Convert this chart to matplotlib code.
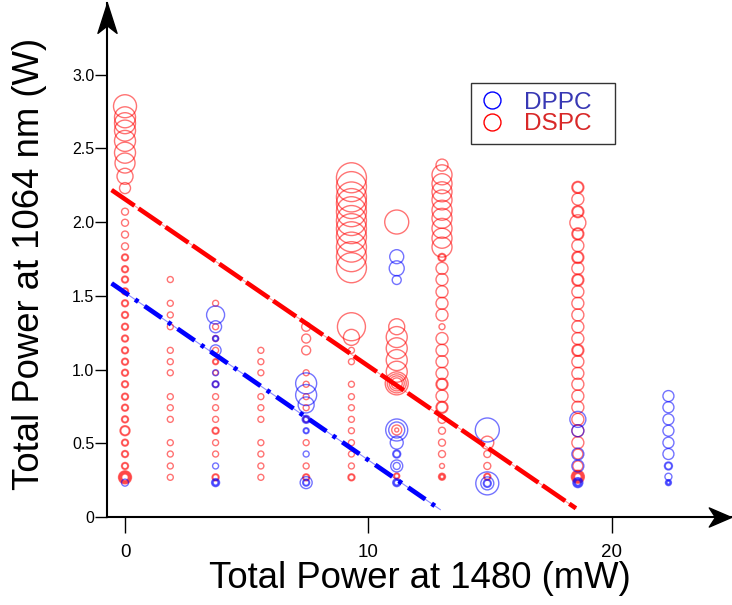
import matplotlib.pyplot as plt
from matplotlib.lines import Line2D
from matplotlib.path import Path

plt.rcParams['font.family'] = ['Liberation Sans', 'DejaVu Sans']
plt.rcParams['lines.scale_dashes'] = False

# power at 1480 nm for each measured column (mW)
col_x = [0.0, 1.86, 3.72, 5.58, 7.44, 9.3, 11.16, 13.02, 14.88, 18.6, 22.32]

# entries: (total power at 1064 nm in W, bubble radius, repeats)
dspc_c0 = [(2.785, 11.5, 1), (2.71, 10.5, 1), (2.67, 10.5, 1), (2.62, 10.5, 1), (2.55, 10.5, 1),
           (2.47, 10.5, 1), (2.40, 10.0, 1), (2.31, 8.0, 1), (2.23, 5.5, 1),
           (2.07, 3.5, 1), (1.995, 3.5, 1), (1.915, 3.5, 1), (1.835, 3.5, 1),
           (1.76, 3.5, 2), (1.68, 3.5, 2), (1.61, 3.5, 2), (1.53, 3.5, 2), (1.449, 3.5, 2),
           (1.37, 3.5, 2), (1.29, 3.5, 2), (1.21, 3.5, 2), (1.13, 3.5, 2), (1.053, 3.5, 2),
           (0.978, 3.5, 2), (0.90, 3.5, 2), (0.816, 3.5, 2), (0.741, 3.5, 2), (0.662, 3.5, 2),
           (0.585, 5.0, 2), (0.504, 3.5, 2), (0.427, 3.5, 2), (0.346, 3.5, 2), (0.269, 6.5, 5)]
dspc_c1 = [(1.61, 3, 1), (1.449, 3, 1), (1.37, 3, 1), (1.29, 3, 1), (1.13, 3, 1), (1.053, 3, 1),
           (0.978, 3, 1), (0.816, 3, 1), (0.741, 3, 1), (0.662, 3, 1), (0.504, 3, 1), (0.427, 3, 1),
           (0.346, 3, 1), (0.269, 3, 1)]
dspc_c2 = [(1.449, 3, 1), (1.29, 3, 1), (1.21, 3, 1), (1.13, 3, 1), (1.053, 3, 2), (0.978, 2.5, 1),
           (0.90, 3, 1), (0.816, 3, 1), (0.741, 3, 1), (0.662, 3, 1), (0.585, 3.5, 2), (0.504, 3, 1),
           (0.427, 3, 1), (0.269, 3.5, 2)]
dspc_c3 = [(1.13, 3, 1), (1.053, 3, 1), (0.978, 3, 1), (0.816, 3, 1), (0.741, 3, 1), (0.662, 3, 1),
           (0.504, 3, 1), (0.427, 3, 1), (0.346, 3, 1), (0.269, 3, 1)]
dspc_c4 = [(1.29, 4.5, 1), (1.21, 4.5, 1), (1.13, 4.5, 1), (0.978, 3, 1), (0.90, 3, 1), (0.816, 3, 1),
           (0.741, 3, 1), (0.662, 3, 1), (0.504, 3, 1), (0.346, 3, 1), (0.269, 3.5, 2)]
dspc_c5 = [(2.30, 15, 1), (2.24, 15, 1), (2.17, 15, 1), (2.125, 15, 1), (2.07, 15, 1), (2.01, 15, 1),
           (1.955, 15, 1), (1.90, 15, 1), (1.83, 15, 1), (1.765, 15, 1), (1.69, 15, 1),
           (1.29, 14, 1), (1.218, 8, 1), (1.13, 3, 1), (1.053, 3, 1), (0.90, 3, 1), (0.816, 3, 1),
           (0.741, 3, 1), (0.662, 3, 1), (0.585, 3, 1), (0.504, 3, 1), (0.427, 3, 1), (0.346, 3, 1),
           (0.269, 3.5, 2)]
dspc_c6 = [(2.0, 12, 1), (1.29, 8, 1), (1.22, 10.5, 1), (1.144, 10.5, 1), (1.064, 10.5, 1),
           (0.985, 10.5, 1), (0.906, 11.5, 1), (0.906, 9.5, 1), (0.906, 7.5, 1), (0.906, 5.5, 1),
           (0.59, 5, 1), (0.59, 2, 1), (0.278, 3, 2)]
dspc_c7 = [(2.386, 6, 1), (2.32, 10, 1), (2.26, 10, 1), (2.205, 10, 1), (2.15, 10, 1), (2.08, 10, 1),
           (2.025, 10, 1), (1.957, 10, 1), (1.89, 10, 1), (1.83, 10, 1), (1.76, 4, 2), (1.686, 6, 1),
           (1.61, 6, 1), (1.527, 6, 1), (1.449, 6, 1), (1.37, 6, 1), (1.29, 3, 1), (1.21, 6, 1),
           (1.13, 6, 1), (1.053, 6, 1), (0.974, 6, 1), (0.90, 6, 2), (0.82, 6, 1), (0.744, 6, 2),
           (0.662, 4, 1), (0.585, 3.5, 1), (0.504, 3.5, 1), (0.427, 3.5, 1), (0.346, 2.5, 1),
           (0.273, 3.5, 3)]
dspc_c8 = [(0.504, 6.5, 1), (0.427, 3.5, 1), (0.346, 3.5, 1), (0.273, 3.5, 2)]
dspc_c9 = [(2.235, 6, 2), (2.155, 6, 1), (2.07, 6, 2), (1.995, 8, 1), (1.92, 6, 2), (1.84, 6, 1),
           (1.76, 6, 2), (1.686, 6, 1), (1.607, 6, 2), (1.527, 6, 1), (1.449, 6, 1), (1.37, 6, 1),
           (1.29, 6, 1), (1.21, 6, 1), (1.13, 6, 2), (1.053, 6, 1), (0.974, 6, 1), (0.90, 6, 1),
           (0.82, 6, 1), (0.744, 6, 1), (0.662, 6, 1), (0.585, 6, 1), (0.504, 6, 1), (0.427, 5, 1),
           (0.346, 5, 1), (0.273, 6.5, 5)]

dppc_c0 = [(0.233, 3.5, 1)]
dppc_c2 = [(1.37, 9, 1), (1.29, 6, 1), (1.21, 3, 2), (1.13, 5.5, 1), (0.978, 3, 1), (0.90, 3.5, 2),
           (0.346, 3, 1), (0.233, 4, 3)]
dppc_c4 = [(0.906, 10.5, 1), (0.827, 10.5, 1), (0.76, 8, 1), (0.662, 4, 3), (0.585, 3, 2),
           (0.427, 3, 1), (0.233, 6, 1), (0.233, 3.5, 2)]
dppc_c6 = [(1.765, 7, 1), (1.686, 7.5, 1), (1.607, 4.5, 1), (0.59, 11, 1), (0.59, 8, 1),
           (0.504, 6.5, 1), (0.427, 4, 2), (0.346, 6, 1), (0.346, 3.5, 1), (0.233, 4, 3)]
dppc_c8 = [(0.59, 12, 1), (0.228, 11.5, 1), (0.228, 6.5, 1), (0.228, 4, 2)]
dppc_c9 = [(0.662, 8, 1), (0.585, 6, 1), (0.427, 6, 1), (0.346, 6, 1), (0.233, 5, 4)]
dppc_c10 = [(0.82, 5.5, 1), (0.744, 5.5, 1), (0.662, 5.5, 1), (0.585, 5.5, 1), (0.504, 5.5, 1),
            (0.427, 5.5, 1), (0.346, 4, 2), (0.273, 3.5, 1), (0.233, 3, 3)]

dspc_cols = [(col_x[0], dspc_c0), (col_x[1], dspc_c1), (col_x[2], dspc_c2), (col_x[3], dspc_c3),
             (col_x[4], dspc_c4), (col_x[5], dspc_c5), (col_x[6], dspc_c6), (col_x[7], dspc_c7),
             (col_x[8], dspc_c8), (col_x[9], dspc_c9)]
dppc_cols = [(col_x[0], dppc_c0), (col_x[2], dppc_c2), (col_x[4], dppc_c4), (col_x[6], dppc_c6),
             (col_x[8], dppc_c8), (col_x[9], dppc_c9), (col_x[10], dppc_c10)]

# linear fits
dspc_fit_x = [-0.55, 18.52]
dspc_fit_y = [2.217, 0.059]
dppc_fit_x = [-0.55, 12.95]
dppc_fit_y = [1.584, 0.05]


def expand(cols):
    xs, ys, ss = [], [], []
    for x, pts in cols:
        for y, r, n in pts:
            for k in range(n):
                xs.append(x)
                ys.append(y)
                ss.append((1.44 * (r - 0.8 * k)) ** 2)
    return xs, ys, ss


fig = plt.figure(figsize=(7.32, 6.05), dpi=100)
ax = fig.add_axes([107 / 732, 88 / 605, 624 / 732, 514 / 605])
ax.set_xlim(-0.74, 24.89)
ax.set_ylim(0, 3.485)

red = (1, 0, 0, 0.55)
blue = (0, 0, 1, 0.55)

ax.plot(dspc_fit_x, dspc_fit_y, color='#ff9a9a', lw=0.8, zorder=1)
ax.plot(dppc_fit_x, dppc_fit_y, color='#8c8cff', lw=0.8, zorder=1)

x, y, s = expand(dspc_cols)
ax.scatter(x, y, s=s, facecolors='none', edgecolors=[red], linewidths=1.0, zorder=2)
x, y, s = expand(dppc_cols)
ax.scatter(x, y, s=s, facecolors='none', edgecolors=[blue], linewidths=1.0, zorder=2)

ax.plot(dspc_fit_x, dspc_fit_y, color='#ff0000', lw=3.3, dashes=(20, 3.5), zorder=3)
ax.plot(dppc_fit_x, dppc_fit_y, color='#0000ff', lw=3.4, dashes=(15, 5.5, 2.8, 5.5), zorder=3)

for side in ('top', 'right'):
    ax.spines[side].set_visible(False)
for side in ('left', 'bottom'):
    ax.spines[side].set_linewidth(1.5)
    ax.spines[side].set_color('black')
    ax.spines[side].set_zorder(4)

head_x = Path([(0, 0), (-1, 0.43), (-0.72, 0), (-1, -0.43), (0, 0)],
              [Path.MOVETO, Path.LINETO, Path.LINETO, Path.LINETO, Path.CLOSEPOLY])
head_y = Path([(0, 0), (0.32, -1), (0, -0.75), (-0.32, -1), (0, 0)],
              [Path.MOVETO, Path.LINETO, Path.LINETO, Path.LINETO, Path.CLOSEPOLY])
ax.plot([1], [0], marker=head_x, ms=32, color='black', transform=ax.transAxes, clip_on=False, zorder=5)
ax.plot([0], [1], marker=head_y, ms=43, color='black', transform=ax.transAxes, clip_on=False, zorder=5)

ax.set_xticks([0, 10, 20])
ax.set_xticklabels(['0', '10', '20'])
ax.set_yticks([0, 0.5, 1.0, 1.5, 2.0, 2.5, 3.0])
ax.set_yticklabels(['0', '0.5', '1.0', '1.5', '2.0', '2.5', '3.0'])
ax.tick_params(axis='x', direction='out', length=11.5, width=1, pad=8, labelsize=13.5)
ax.tick_params(axis='y', direction='out', length=8.6, width=1, pad=0.5, labelsize=11.5)

fig.text(420 / 732, 1 - 579 / 605, 'Total Power at 1480 (mW)', fontsize=26.3, ha='center', va='center')
fig.text(29.5 / 732, 1 - 263.5 / 605, 'Total Power at 1064 nm (W)', fontsize=26.3, rotation=90,
         ha='center', va='center')

handles = [Line2D([], [], ls='none', marker='o', ms=12.2, mfc='none', mec='#0000ff', mew=1.0),
           Line2D([], [], ls='none', marker='o', ms=12.2, mfc='none', mec='#ff0000', mew=1.0)]
leg = ax.legend(handles, ['DPPC', 'DSPC'], loc='upper left',
                bbox_to_anchor=(471 / 732, 1 - 140 / 605, 144 / 732, 57 / 605), mode='expand',
                bbox_transform=fig.transFigure, fontsize=17.6, frameon=True, fancybox=False,
                edgecolor='black', borderpad=0.35, labelspacing=-0.02, handlelength=1.0,
                handletextpad=0.8, borderaxespad=0, labelcolor=['#3838b4', '#d82828'])
leg.get_frame().set_linewidth(1.0)

fig.savefig('out.png', dpi=100)
